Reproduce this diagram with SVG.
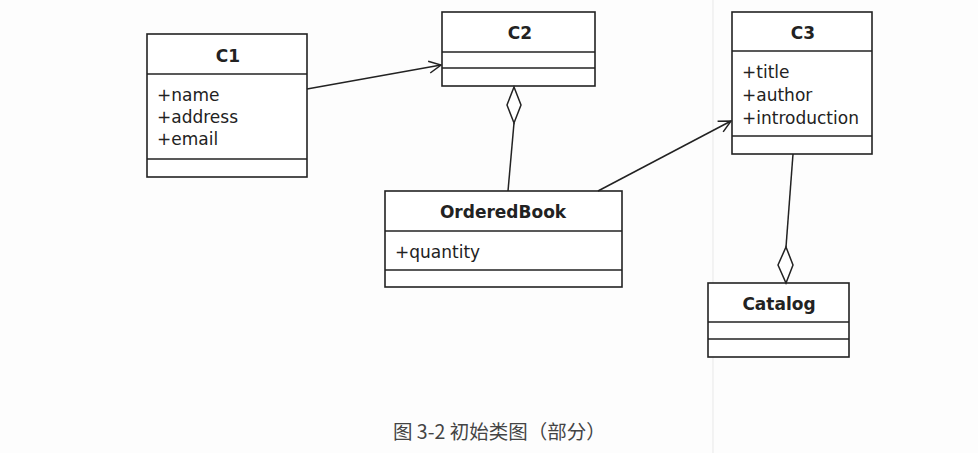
<svg xmlns="http://www.w3.org/2000/svg" width="978" height="453" viewBox="0 0 978 453">
<defs>
<style>
.box{fill:#fff;stroke:#222;stroke-width:1.6}
.div{stroke:#222;stroke-width:1.6}
.title{font-family:"DejaVu Sans",Verdana,sans-serif;font-weight:bold;font-size:17px;fill:#222;text-anchor:middle}
.attr{font-family:"DejaVu Sans",Verdana,sans-serif;font-size:17px;fill:#222}
.conn{fill:none;stroke:#222;stroke-width:1.5}
.dia{fill:#fff;stroke:#222;stroke-width:1.5}
.cap{font-family:"Noto Sans CJK SC",sans-serif;font-size:19.5px;fill:#444}
</style>
<marker id="open" viewBox="0 0 14 14" refX="13" refY="7" markerWidth="14" markerHeight="14" markerUnits="userSpaceOnUse" orient="auto">
<path d="M1,1 L13,7 L1,13" fill="none" stroke="#222" stroke-width="1.5"/>
</marker>
</defs>
<rect width="978" height="453" fill="#fdfdfd"/>
<line x1="713" y1="0" x2="713" y2="453" stroke="#ececec" stroke-width="1.2"/>

<g id="C1">
<rect class="box" x="147" y="34" width="160" height="143"/>
<line class="div" x1="147" y1="74" x2="307" y2="74"/>
<line class="div" x1="147" y1="159" x2="307" y2="159"/>
<text class="title" x="228" y="62">C1</text>
<text class="attr" x="157" y="101">+name</text>
<text class="attr" x="157" y="123">+address</text>
<text class="attr" x="157" y="145">+email</text>
</g>

<g id="C2">
<rect class="box" x="442" y="12" width="153" height="74"/>
<line class="div" x1="442" y1="52" x2="595" y2="52"/>
<line class="div" x1="442" y1="68" x2="595" y2="68"/>
<text class="title" x="520" y="39">C2</text>
</g>

<g id="C3">
<rect class="box" x="732" y="12" width="140" height="142"/>
<line class="div" x1="732" y1="51" x2="872" y2="51"/>
<line class="div" x1="732" y1="136" x2="872" y2="136"/>
<text class="title" x="803" y="39">C3</text>
<text class="attr" x="742" y="78">+title</text>
<text class="attr" x="742" y="101">+author</text>
<text class="attr" x="742" y="124">+introduction</text>
</g>

<g id="OrderedBook">
<rect class="box" x="385" y="191" width="237" height="96"/>
<line class="div" x1="385" y1="231" x2="622" y2="231"/>
<line class="div" x1="385" y1="270" x2="622" y2="270"/>
<text class="title" x="503" y="218">OrderedBook</text>
<text class="attr" x="395" y="258">+quantity</text>
</g>

<g id="Catalog">
<rect class="box" x="708" y="283" width="141" height="74"/>
<line class="div" x1="708" y1="322" x2="849" y2="322"/>
<line class="div" x1="708" y1="339" x2="849" y2="339"/>
<text class="title" x="779" y="310">Catalog</text>
</g>

<g id="connectors">
<line class="conn" x1="307" y1="89" x2="441" y2="65" marker-end="url(#open)"/>
<line class="conn" x1="598" y1="191" x2="731" y2="121" marker-end="url(#open)"/>
<line class="conn" x1="508" y1="191" x2="514" y2="123"/>
<path class="dia" d="M514,87 L521,105 L514,123 L507,105 Z"/>
<line class="conn" x1="793" y1="154" x2="786" y2="247"/>
<path class="dia" d="M786,247 L793,265 L786,283 L778,265 Z"/>
</g>

<text class="cap" x="393" y="439">图 3-2 初始类图（部分）</text>
</svg>
